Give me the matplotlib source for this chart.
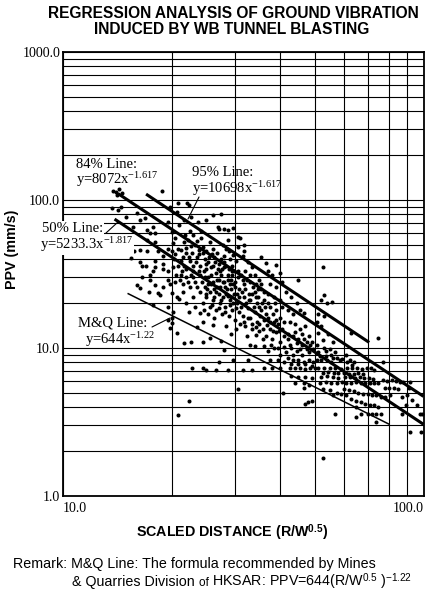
import matplotlib
matplotlib.use('Agg')
import matplotlib.pyplot as plt
from matplotlib.ticker import NullFormatter

plt.rcParams['font.family'] = 'Liberation Serif'
plt.rcParams['mathtext.fontset'] = 'custom'
plt.rcParams['mathtext.rm'] = 'Liberation Serif'
plt.rcParams['mathtext.it'] = 'Liberation Serif:italic'
plt.rcParams['mathtext.sf'] = 'Liberation Sans'
plt.rcParams['mathtext.bf'] = 'Liberation Sans:bold'
SANS = 'Liberation Sans'

# regression lines, end points (scaled distance, PPV)
line95_x = [17.0, 70.7]
line95_y = [109.6, 10.9]
line84_x = [14.2, 100.0]
line84_y = [110.6, 4.71]
line50_x = [13.9, 100.0]
line50_y = [74.3, 3.05]
lineMQ_x = [15.1, 80.4]
lineMQ_y = [23.4, 3.05]

x_ticks = [10, 100]
x_ticklabels = ['10.0', '100.0']
y_ticks = [1, 10, 100, 1000]
y_ticklabels = ['1.0', '10.0', '100.0', '1000.0']

# blast records (scaled distance, PPV mm/s)
pts_upper = [
    (13.8, 115), (14.0, 113), (14.3, 118), (14.6, 112), (14.1, 108), (18.8, 115),
    (13.7, 88), (14.2, 85), (14.5, 90), (15.0, 77), (16.0, 82), (16.4, 73), (16.9, 75),
    (17.1, 63), (17.8, 66), (18.0, 60), (15.6, 66), (19.5, 71), (20.0, 61), (21.0, 68),
    (21.6, 73), (22.6, 77), (22.3, 92), (20.7, 83), (19.8, 89), (20.9, 95), (22.1, 95),
    (23.7, 71), (25.0, 73), (26.9, 66), (28.6, 63), (29.7, 65), (30.5, 56), (26.0, 79),
    (27.4, 80), (27.0, 64), (28.0, 64), (28.6, 54), (31.0, 55), (31.8, 50), (28.8, 45),
    (29.7, 42.5), (30.5, 48), (31.8, 45), (24.2, 62), (23.0, 58), (22.5, 62),
]
pts_left = [
    (15.3, 48), (16.4, 46), (15.7, 45), (15.4, 40.5), (16.4, 38), (16.6, 36), (17.4, 60),
    (17.1, 54), (18.0, 52), (18.4, 45), (17.1, 45), (17.0, 36), (18.0, 35), (18.0, 38.5),
    (17.8, 33), (18.9, 37), (19.0, 34), (19.6, 33), (20.2, 35), (21.2, 38.5), (20.2, 51),
    (21.6, 52), (22.0, 47.5), (22.8, 44), (19.5, 47), (19.0, 42), (20.5, 43), (21.5, 41),
    (22.5, 39), (23.5, 41), (23.0, 36), (22.0, 34), (24.0, 36), (17.4, 31), (16.6, 30),
    (17.4, 29), (18.0, 26.5), (16.0, 26.5), (16.4, 25.6), (17.3, 24), (18.9, 26), (19.8, 27),
    (18.4, 23.5), (18.6, 22.8), (20.0, 23.5), (21.0, 21.5), (21.2, 31), (22.0, 30), (23.0, 30),
    (24.0, 31), (19.5, 29), (20.5, 28), (21.5, 27), (22.5, 26), (23.5, 26), (24.0, 24),
    (20.7, 22), (21.5, 24), (17.8, 19.5), (19.5, 19), (20.2, 17.5), (19.5, 15.5), (20.0, 16),
    (19.8, 13.6), (20.7, 12.6), (20.0, 14.8), (21.6, 10.8), (22.6, 11.0), (23.6, 13.8),
    (22.3, 17.6), (24.0, 17.3), (22.8, 7.3), (24.5, 7.3), (22.0, 20), (23.0, 22), (23.2, 19),
    (20.8, 3.5), (22.3, 4.4), (20.5, 55), (21.8, 58), (23.2, 50), (23.8, 46), (22.2, 54),
    (20.8, 47),
]
pts_core = [
    (24.2, 55), (24.5, 48), (25.0, 45), (25.5, 52), (26.0, 47), (24.8, 40), (25.3, 38),
    (26.2, 41), (26.8, 44), (25.8, 35), (24.6, 33), (25.2, 30), (26.5, 32), (27.0, 37),
    (26.0, 28), (24.8, 26), (25.5, 24), (26.8, 26), (27.0, 29), (25.0, 22), (26.0, 21),
    (27.0, 23), (25.5, 19), (26.5, 18), (24.5, 20), (27.2, 20), (26.2, 16), (24.5, 15),
    (26.0, 14.3), (25.6, 11.6), (24.5, 11), (27.5, 11.2), (25.0, 34), (26.0, 36), (24.3, 28),
    (25.8, 27), (26.6, 24), (24.9, 23), (25.3, 17),
    (27.8, 50), (28.3, 47), (29.0, 40), (28.0, 38), (29.5, 36), (30.2, 39), (27.6, 34),
    (28.6, 31), (29.4, 33), (30.5, 30), (28.0, 28), (29.0, 27), (30.0, 26), (28.5, 25),
    (29.8, 23), (30.8, 25), (27.8, 22), (29.0, 21), (30.4, 20), (28.2, 19), (29.5, 18),
    (30.8, 17.5), (28.8, 16.5), (30.0, 15.5), (28.0, 9.7), (27.0, 8.1), (29.6, 8.3),
    (28.6, 7.1), (25.0, 7.1), (26.5, 7.1), (30.5, 5.3), (27.5, 31), (28.0, 35), (29.2, 29),
    (30.0, 28), (27.3, 26), (28.7, 22.5), (29.6, 20), (27.6, 17), (28.4, 14), (29.2, 12.5),
    (30.2, 13.5),
    (31.5, 42), (32.5, 38), (33.5, 35), (32.0, 33), (34.0, 31), (31.5, 29), (33.0, 28),
    (35.0, 29), (32.0, 25), (34.0, 24), (35.5, 25), (31.8, 22), (33.0, 21), (34.5, 20),
    (36.0, 21), (32.5, 18.5), (34.0, 17.5), (35.5, 18), (31.5, 16.5), (33.0, 16), (34.5, 15),
    (36.0, 15.5), (32.0, 14), (33.5, 13.5), (35.0, 13), (35.4, 41), (36.5, 37.5), (33.0, 10.5),
    (34.0, 10.3), (32.5, 8.3), (31.5, 7.1), (33.5, 7.1), (32.8, 23), (34.8, 22), (31.2, 19),
    (33.8, 19), (35.2, 16.5), (32.3, 12), (34.2, 12.2), (35.8, 11.5),
    (37.0, 33), (38.0, 31), (39.0, 36.5), (40.0, 32), (37.5, 27), (39.0, 26), (40.5, 28),
    (37.0, 23), (38.5, 22), (40.0, 21), (37.5, 19), (39.0, 18), (40.5, 19), (37.0, 16),
    (38.5, 15), (40.0, 16), (37.5, 13.5), (39.0, 12.8), (40.5, 13.5), (38.0, 11.5), (40.0, 11),
    (36.5, 12), (37.0, 9.5), (38.5, 10), (40.0, 9), (39.5, 8.3), (37.5, 8.3), (41.0, 8),
    (36.0, 7.3), (38.0, 7.3), (40.0, 7.3), (40.7, 5.0), (38.2, 17), (39.6, 14.5), (36.8, 14.2),
    (38.8, 20), (41.0, 15), (41.0, 10.2),
]
pts_dense = [
    (20.3, 40), (20.9, 36), (21.4, 33), (21.9, 44), (22.4, 41), (22.9, 33), (23.4, 38),
    (23.9, 43), (20.6, 31), (21.1, 29), (22.2, 28), (23.3, 28), (23.8, 33), (21.7, 36),
    (22.7, 31), (20.1, 45), (21.3, 46), (22.6, 49), (23.6, 53),
    (24.4, 44), (24.9, 37), (25.4, 41), (25.9, 43), (26.4, 38), (26.9, 34), (27.4, 40),
    (27.9, 42), (28.4, 36), (28.9, 34), (29.4, 31), (29.9, 33), (24.7, 30), (25.2, 27),
    (25.7, 31), (26.2, 25), (26.7, 29), (27.2, 33), (27.7, 28), (28.2, 26), (28.7, 29),
    (29.2, 25), (29.7, 27), (25.1, 25), (26.3, 22), (27.4, 21), (28.4, 23), (29.3, 22),
    (30.3, 23), (24.6, 18), (25.9, 19.5), (27.1, 18.5), (28.1, 17.5), (29.1, 19.5), (30.1, 18.5),
    (30.6, 33), (31.2, 31), (31.8, 27), (32.4, 29), (33.0, 31), (33.6, 26), (34.2, 27),
    (34.8, 25), (35.4, 27), (36.0, 24), (30.7, 22), (31.4, 24), (32.1, 20), (32.8, 21),
    (33.5, 23), (34.2, 22), (34.9, 19), (35.6, 20), (36.3, 19), (37.0, 20), (31.0, 14.5),
    (31.8, 15), (32.6, 16), (33.4, 14.5), (34.2, 13.8), (35.0, 14.5), (35.8, 13.5), (36.6, 17),
    (37.4, 15), (38.2, 13), (39.0, 15.5), (39.8, 13), (36.2, 10.3), (37.8, 10.5), (39.4, 10),
    (41.0, 12),
    (41.5, 9.4), (42.5, 10.5), (43.5, 9.0), (44.5, 10.8), (45.5, 9.8), (46.5, 11.5), (47.5, 9.8),
    (48.5, 10.5), (42.0, 11.5), (44.0, 12.8), (46.0, 12.5), (48.0, 12.0), (49.0, 11.0),
    (43.0, 7.8), (45.0, 7.8), (47.0, 7.8), (49.0, 7.6),
    (51.5, 8.8), (53.5, 9.5), (55.5, 8.9), (57.5, 8.6), (59.5, 8.4), (61.5, 8.0), (63.5, 7.7),
    (58.0, 6.8), (60.0, 6.8), (62.0, 6.7), (64.0, 6.7), (66.0, 6.8), (68.0, 6.7), (52.5, 6.8),
    (54.5, 6.9), (56.5, 6.8),
]
pts_lower = [
    (45.0, 29), (41.5, 24), (43.0, 22), (44.5, 20), (42.0, 18), (43.5, 17), (45.5, 18),
    (46.5, 17.3), (42.5, 15), (44.0, 14.5), (45.5, 13.5), (47.0, 14), (42.0, 12.5), (43.5, 12),
    (45.0, 11.5), (46.0, 10.5), (47.5, 11), (43.0, 10), (44.5, 9.5), (46.0, 9), (48.0, 9.4),
    (49.5, 9.8), (42.0, 8.5), (43.5, 8.3), (45.0, 8.3), (46.5, 8.1), (48.0, 8.3), (49.5, 8.0),
    (42.5, 7.3), (44.0, 7.3), (45.5, 7.3), (47.0, 7.2), (48.5, 7.3), (50.0, 7.3), (43.0, 6.5),
    (45.0, 6.4), (47.0, 6.4), (49.0, 6.3), (44.0, 5.8), (46.5, 5.8), (48.0, 5.6), (47.9, 4.3),
    (49.0, 4.4), (46.5, 5.4), (47.0, 4.2),
    (52.6, 35), (53.0, 22.7), (52.0, 21), (55.7, 20.6), (54.0, 20), (51.0, 17), (53.0, 16.5),
    (50.5, 15), (52.0, 14), (51.0, 12.7), (52.6, 11.3), (56.0, 11), (54.5, 12.5), (50.5, 10.5),
    (53.0, 10), (55.0, 9.8), (57.0, 9.4), (51.0, 9.4), (53.5, 8.8), (56.0, 8.5), (58.5, 8.3),
    (50.5, 8.3), (52.0, 8.3), (54.0, 8.3), (55.5, 8.1), (51.0, 7.3), (53.0, 7.3), (55.0, 7.3),
    (57.0, 7.3), (59.0, 7.2), (52.0, 6.4), (54.0, 6.5), (56.0, 6.4), (58.0, 6.3), (51.5, 5.8),
    (53.5, 5.9), (55.5, 5.8), (57.5, 5.8), (59.5, 5.9), (52.5, 5.3), (55.0, 5.2), (57.5, 5.0),
    (59.0, 4.9), (56.0, 4.8), (57.0, 3.6), (52.6, 1.8),
    (63.0, 12.7), (75.0, 11.7), (61.0, 9.0), (62.5, 8.3), (64.0, 8.0), (61.5, 7.3), (63.5, 7.3),
    (65.5, 7.3), (67.5, 7.2), (69.5, 7.3), (71.5, 7.3), (73.0, 7.1), (60.5, 6.4), (62.5, 6.4),
    (64.5, 6.3), (66.5, 6.4), (68.5, 6.3), (70.5, 6.3), (72.5, 6.2), (61.0, 5.8), (63.0, 5.8),
    (65.0, 5.9), (67.0, 5.8), (69.0, 5.8), (71.0, 5.8), (73.0, 5.8), (75.0, 5.8), (77.0, 8.0),
    (60.0, 5.3), (62.0, 5.2), (64.0, 5.1), (66.0, 5.0), (68.0, 4.9), (70.0, 4.9), (72.0, 4.8),
    (74.0, 4.8), (76.0, 4.7), (78.0, 4.7), (80.5, 4.8), (61.0, 4.8), (63.0, 4.5), (65.0, 4.4),
    (67.0, 4.3), (69.0, 4.2), (71.0, 4.1), (73.0, 4.1), (75.0, 4.0), (65.0, 4.0), (65.0, 3.4),
    (67.0, 3.6), (70.0, 3.6), (72.0, 3.6), (74.0, 3.6), (76.4, 3.6), (74.0, 3.15), (77.0, 6.1),
    (79.0, 6.0), (78.0, 5.4), (80.0, 5.4),
    (82.0, 6.1), (84.0, 6.0), (86.0, 5.9), (88.0, 5.9), (91.0, 5.4), (85.0, 5.3), (87.0, 4.7),
    (93.0, 4.45), (97.6, 3.6), (91.5, 2.7), (98.6, 2.7), (87.0, 3.6), (83.0, 5.4), (92.0, 5.9),
    (90.0, 4.8), (96.0, 4.1), (99.0, 3.6), (89.5, 4.1),
]

W, H = 426, 593
L, R, T, B = 63, 423.5, 52, 496
fig = plt.figure(figsize=(W / 100, H / 100), dpi=100)
ax = fig.add_axes([L / W, 1 - B / H, (R - L) / W, (B - T) / H])


def apos(x, y):
    # pixel position on the page -> axes fraction
    return ((x - L) / (R - L), (B - y) / (B - T))


def fpos(x, y):
    return (x / W, 1 - y / H)


for grp in (pts_upper, pts_left, pts_core, pts_dense, pts_lower):
    xs, ys = zip(*grp)
    ax.plot(xs, ys, 'o', ms=2.9, color='black', mew=0, zorder=3)

ax.plot(line95_x, line95_y, color='black', lw=2.2, zorder=4, solid_capstyle='butt')
ax.plot(line84_x, line84_y, color='black', lw=2.2, zorder=4, solid_capstyle='butt')
ax.plot(line50_x, line50_y, color='black', lw=2.2, zorder=4, solid_capstyle='butt')
ax.plot(lineMQ_x, lineMQ_y, color='black', lw=1.1, zorder=4, solid_capstyle='butt')

ax.set_xscale('log')
ax.set_yscale('log')
ax.set_xlim(10, 100)
ax.set_ylim(1, 1000)
ax.grid(True, which='both', color='black', lw=0.8)
ax.set_axisbelow(True)
ax.tick_params(which='both', length=0)
ax.set_xticks(x_ticks)
ax.set_xticklabels(x_ticklabels)
ax.set_yticks(y_ticks)
ax.set_yticklabels(y_ticklabels)
ax.xaxis.set_minor_formatter(NullFormatter())
ax.yaxis.set_minor_formatter(NullFormatter())
ax.tick_params(axis='x', pad=4.5, labelsize=10)
ax.tick_params(axis='y', pad=2, labelsize=10)
for lab, ha in zip(ax.get_xticklabels(), ['left', 'right']):
    lab.set_horizontalalignment(ha)
for sp in ax.spines.values():
    sp.set_linewidth(1.3)

# line labels
tkw = dict(transform=ax.transAxes, fontsize=10.5, ha='left', va='center', zorder=6)
ax.text(*apos(76, 164), '84% Line:', **tkw)
ax.text(*apos(76, 180), 'y=8072x$^{-1.617}$', **tkw)
ax.text(*apos(192, 172), '95% Line:', **tkw)
ax.text(*apos(192, 189), 'y=10698x$^{-1.617}$', **tkw)
box = dict(facecolor='white', edgecolor='none', pad=0.3)
ax.text(*apos(42, 228), '50% Line:', bbox=box, clip_on=False, **tkw)
ax.text(*apos(40, 245), 'y=5233.3x$^{-1.817}$', bbox=box, clip_on=False, **tkw)
ax.text(*apos(78, 323), 'M&Q Line:', **tkw)
ax.text(*apos(85, 340), 'y=644x$^{-1.22}$', **tkw)

lkw = dict(xycoords='axes fraction', textcoords='axes fraction',
           arrowprops=dict(arrowstyle='-', lw=0.8, color='black', shrinkA=0, shrinkB=0))
ax.annotate('', xy=apos(188, 219), xytext=apos(199, 197), **lkw)
ax.annotate('', xy=apos(118, 222), xytext=apos(106, 233), **lkw)
ax.annotate('', xy=apos(170, 318), xytext=apos(152, 327), **lkw)

# titles and axis labels
hkw = dict(ha='center', va='center', family=SANS, fontweight='bold', fontsize=11.2)
fig.text(*fpos(233, 13), 'REGRESSION ANALYSIS OF GROUND VIBRATION', **hkw)
fig.text(*fpos(232, 29), 'INDUCED BY WB TUNNEL BLASTING', **hkw)
fig.text(*fpos(232, 533), r'SCALED DISTANCE (R/W$^{\mathbf{0.5}}$)', ha='center', va='center',
         family=SANS, fontweight='bold', fontsize=10.3)
fig.text(*fpos(12, 249), 'PPV (mm/s)', rotation=90, ha='center', va='center',
         family=SANS, fontweight='bold', fontsize=10.3)

# remark (second line built from pieces on one baseline)
fig.text(*fpos(13, 568), 'Remark: M&Q Line: The formula recommended by Mines',
         ha='left', va='baseline', family=SANS, fontsize=10.3)
base_y = fpos(0, 586)[1]
pieces = [('& Quarries Division ', 10.3),
          ('of ', 8.5),
          (r'HKSAR: PPV=644(R/W$^{\mathsf{0.5}}$ )$^{\mathsf{-1.22}}$', 10.3)]
renderer = fig.canvas.get_renderer()
x_cur = 72 / W
for txt, size in pieces:
    t = fig.text(x_cur, base_y, txt, ha='left', va='baseline', family=SANS, fontsize=size)
    bb = t.get_window_extent(renderer=renderer)
    x_cur = bb.x1 / fig.bbox.width

fig.savefig('out.png', dpi=100)
